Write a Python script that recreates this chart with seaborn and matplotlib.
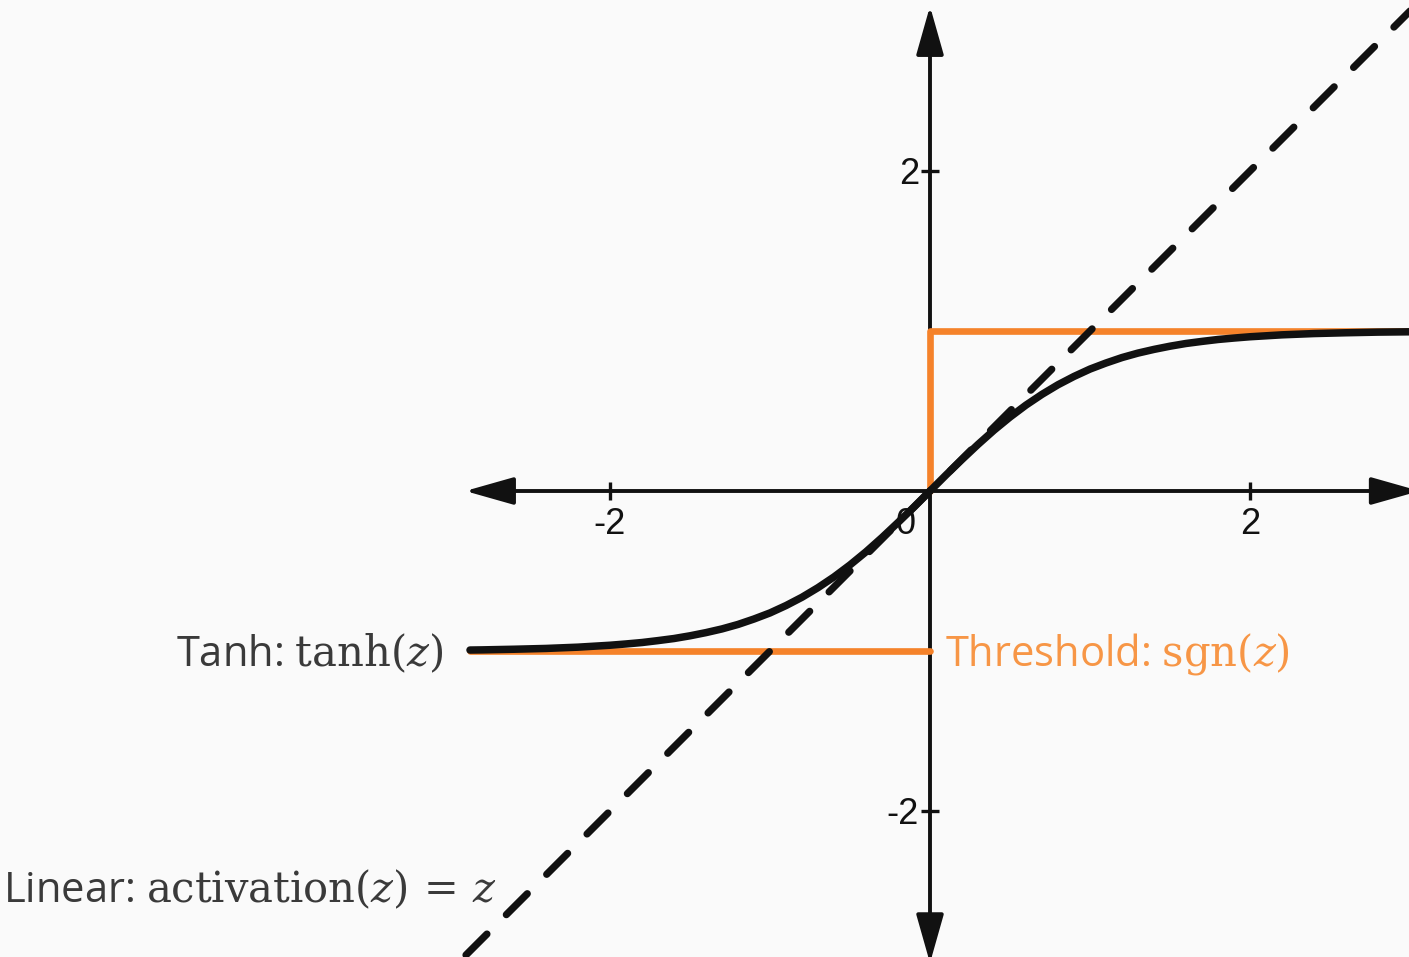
import pandas as pd
import matplotlib.pyplot as plt
import seaborn as sns

# Theme and fonts
sns.set_theme(style="white")
plt.rcParams['font.family'] = ['Open Sans', 'DejaVu Sans']
plt.rcParams['mathtext.fontset'] = 'dejavuserif'

# Values
tanh_z = [-2.875, -2.8, -2.6, -2.4, -2.2,
          -2.0, -1.9, -1.8, -1.7, -1.6, -1.5, -1.4, -1.3, -1.2, -1.1, -1.0, -0.9, -0.8, -0.7, -0.6,
          -0.5, -0.4, -0.3, -0.2, -0.1, 0.0, 0.1, 0.2, 0.3, 0.4, 0.5, 0.6, 0.7, 0.8, 0.9, 1.0,
          1.1, 1.2, 1.3, 1.4, 1.5, 1.6, 1.7, 1.8, 1.9, 2.0,
          2.2, 2.4, 2.6, 2.8, 3.0]
tanh_vals = [-0.994, -0.993, -0.989, -0.984, -0.976,
             -0.964, -0.956, -0.947, -0.935, -0.922, -0.905, -0.885, -0.862, -0.834, -0.800,
             -0.762, -0.716, -0.664, -0.604, -0.537, -0.462, -0.380, -0.291, -0.197, -0.100,
             0.0, 0.100, 0.197, 0.291, 0.380, 0.462, 0.537, 0.604, 0.664, 0.716, 0.762,
             0.800, 0.834, 0.862, 0.885, 0.905, 0.922, 0.935, 0.947, 0.956, 0.964,
             0.976, 0.984, 0.989, 0.993, 0.995]

sgn_z = [-2.875, 0.0, 0.0, 0.0, 3.05]
sgn_vals = [-1, -1, 0, 1, 1]
sgn_piece = [0, 0, 1, 1, 1]

linear_z = [-2.9, 3.1]
linear_vals = [-2.9, 3.1]

tick_pos = [-2, 2]
tick_labels = ['-2', '2']

tanh_df = pd.DataFrame({'z': tanh_z, 'a': tanh_vals})
sgn_df = pd.DataFrame({'z': sgn_z, 'a': sgn_vals, 'piece': sgn_piece})
lin_df = pd.DataFrame({'z': linear_z, 'a': linear_vals})

black = '#111111'
orange_line = '#f5822a'
orange_text = '#f79646'
text_grey = '#3a3a3a'
bg = '#fafafa'

fig = plt.figure(figsize=(14.09, 9.57), dpi=100, facecolor=bg)
ax = fig.add_axes([0, 0, 1, 1], facecolor=bg)

# 160 px per unit, origin at pixel (930, 491)
ax.set_xlim(-930 / 160, (1409 - 930) / 160)
ax.set_ylim(-(957 - 491) / 160, 491 / 160)

# Axes with arrow heads
arrow_kw = dict(arrowstyle='<|-|>,head_length=3.0,head_width=0.85', mutation_scale=10,
                color=black, lw=2.8, shrinkA=0, shrinkB=0)
ax.annotate('', xy=(3.06, 0), xytext=(-2.905, 0), arrowprops=arrow_kw, zorder=1,
            annotation_clip=False)
ax.annotate('', xy=(0, 3.03), xytext=(0, -2.95), arrowprops=arrow_kw, zorder=1,
            annotation_clip=False)

for side in ['top', 'right', 'left', 'bottom']:
    ax.spines[side].set_visible(False)
ax.spines['left'].set_position(('data', 0))
ax.spines['bottom'].set_position(('data', 0))

ax.set_xticks(tick_pos)
ax.set_xticklabels(tick_labels)
ax.set_yticks(tick_pos)
ax.set_yticklabels(tick_labels)
for lab in ax.get_xticklabels() + ax.get_yticklabels():
    lab.set_fontfamily('Liberation Sans')
ax.tick_params(axis='both', bottom=True, left=True, direction='inout', length=13.5, width=2.4,
               color=black, labelsize=26, labelcolor=black)
ax.tick_params(axis='x', pad=5)
ax.tick_params(axis='y', pad=1)
ax.text(-0.09, -0.1, '0', ha='right', va='top', fontsize=26, family='Liberation Sans',
        color=black, zorder=0)

# Curves
sns.lineplot(data=sgn_df, x='z', y='a', units='piece', estimator=None, sort=False,
             color=orange_line, lw=4.8, ax=ax, zorder=2)
sns.lineplot(data=tanh_df, x='z', y='a', estimator=None, sort=False,
             color=black, lw=5.4, ax=ax, zorder=3)
sns.lineplot(data=lin_df, x='z', y='a', estimator=None, sort=False,
             color=black, lw=5.2, linestyle=(0, (4.1, 3.8)), dash_capstyle='round',
             ax=ax, zorder=4)
ax.set_xlabel('')
ax.set_ylabel('')

# Labels
ax.text((443 - 930) / 160, -1.02, r'Tanh: $\mathrm{tanh}(z)$', ha='right', va='center',
        fontsize=30, color=text_grey)
ax.text((945 - 930) / 160, -1.02, r'Threshold: $\mathrm{sgn}(z)$', ha='left', va='center',
        fontsize=30, color=orange_text)
ax.text((497 - 930) / 160, -(891 - 491) / 160, r'Linear: $\mathrm{activation}(z)\,=\,z$',
        ha='right', va='center', fontsize=30, color=text_grey)

fig.savefig('out.png', dpi=100, facecolor=bg)
